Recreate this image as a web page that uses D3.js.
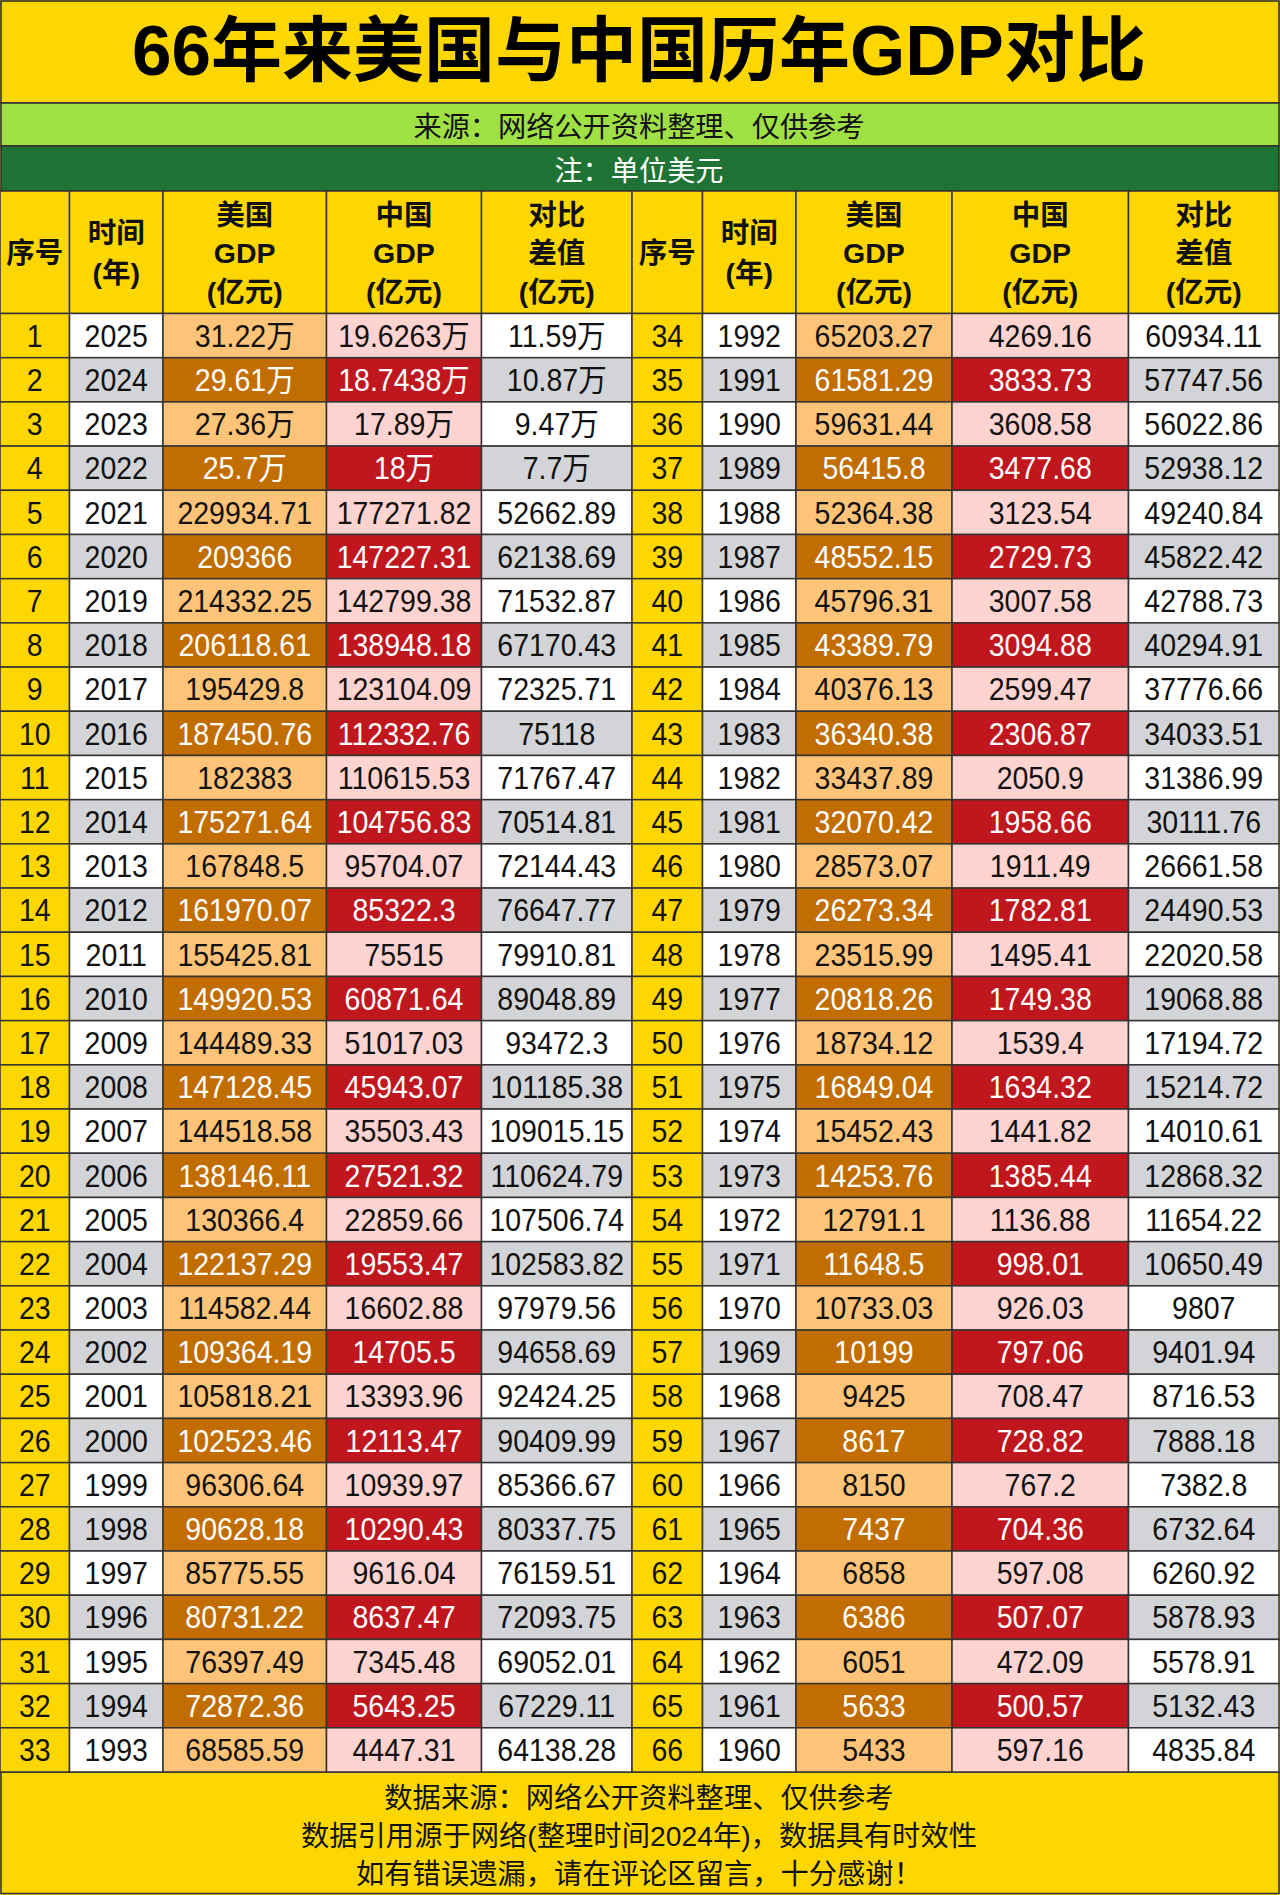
<!DOCTYPE html>
<html>
<head>
<meta charset="utf-8">
<script src="https://cdn.jsdelivr.net/npm/d3@7"></script>
<style>
  html, body { margin: 0; padding: 0; background: #fff; }
  svg { display: block; }
  text { font-family: "Liberation Sans", "Noto Sans CJK SC", sans-serif; text-anchor: middle; }
</style>
</head>
<body>
<script>
const w = 1280;
const h = 1895;

const titleText = "66年来美国与中国历年GDP对比";
const sourceText = "来源：网络公开资料整理、仅供参考";
const noteText = "注：单位美元";
const footerLines = [
    "数据来源：网络公开资料整理、仅供参考",
    "数据引用源于网络(整理时间2024年)，数据具有时效性",
    "如有错误遗漏，请在评论区留言，十分感谢！"
];

const headers = [
    ["序号"],
    ["时间", "(年)"],
    ["美国", "GDP", "(亿元)"],
    ["中国", "GDP", "(亿元)"],
    ["对比", "差值", "(亿元)"]
];

const seq = [1,2,3,4,5,6,7,8,9,10,11,12,13,14,15,16,17,18,19,20,21,22,23,24,25,26,27,28,29,30,31,32,33,
    34,35,36,37,38,39,40,41,42,43,44,45,46,47,48,49,50,51,52,53,54,55,56,57,58,59,60,61,62,63,64,65,66];

const years = [2025,2024,2023,2022,2021,2020,2019,2018,2017,2016,2015,2014,2013,2012,2011,2010,2009,2008,2007,2006,
    2005,2004,2003,2002,2001,2000,1999,1998,1997,1996,1995,1994,1993,1992,1991,1990,1989,1988,1987,1986,1985,1984,
    1983,1982,1981,1980,1979,1978,1977,1976,1975,1974,1973,1972,1971,1970,1969,1968,1967,1966,1965,1964,1963,1962,1961,1960];

const usGdp = ["31.22万","29.61万","27.36万","25.7万","229934.71","209366","214332.25","206118.61","195429.8","187450.76",
    "182383","175271.64","167848.5","161970.07","155425.81","149920.53","144489.33","147128.45","144518.58","138146.11",
    "130366.4","122137.29","114582.44","109364.19","105818.21","102523.46","96306.64","90628.18","85775.55","80731.22",
    "76397.49","72872.36","68585.59","65203.27","61581.29","59631.44","56415.8","52364.38","48552.15","45796.31",
    "43389.79","40376.13","36340.38","33437.89","32070.42","28573.07","26273.34","23515.99","20818.26","18734.12",
    "16849.04","15452.43","14253.76","12791.1","11648.5","10733.03","10199","9425","8617","8150",
    "7437","6858","6386","6051","5633","5433"];

const cnGdp = ["19.6263万","18.7438万","17.89万","18万","177271.82","147227.31","142799.38","138948.18","123104.09","112332.76",
    "110615.53","104756.83","95704.07","85322.3","75515","60871.64","51017.03","45943.07","35503.43","27521.32",
    "22859.66","19553.47","16602.88","14705.5","13393.96","12113.47","10939.97","10290.43","9616.04","8637.47",
    "7345.48","5643.25","4447.31","4269.16","3833.73","3608.58","3477.68","3123.54","2729.73","3007.58",
    "3094.88","2599.47","2306.87","2050.9","1958.66","1911.49","1782.81","1495.41","1749.38","1539.4",
    "1634.32","1441.82","1385.44","1136.88","998.01","926.03","797.06","708.47","728.82","767.2",
    "704.36","597.08","507.07","472.09","500.57","597.16"];

const diffs = ["11.59万","10.87万","9.47万","7.7万","52662.89","62138.69","71532.87","67170.43","72325.71","75118",
    "71767.47","70514.81","72144.43","76647.77","79910.81","89048.89","93472.3","101185.38","109015.15","110624.79",
    "107506.74","102583.82","97979.56","94658.69","92424.25","90409.99","85366.67","80337.75","76159.51","72093.75",
    "69052.01","67229.11","64138.28","60934.11","57747.56","56022.86","52938.12","49240.84","45822.42","42788.73",
    "40294.91","37776.66","34033.51","31386.99","30111.76","26661.58","24490.53","22020.58","19068.88","17194.72",
    "15214.72","14010.61","12868.32","11654.22","10650.49","9807","9401.94","8716.53","7888.18","7382.8",
    "6732.64","6260.92","5878.93","5578.91","5132.43","4835.84"];

const rowsPerSide = 33;
const columns = [seq, years, usGdp, cnGdp, diffs];

// column edges of the two side by side tables
const edges = [0, 69.5, 163, 326.5, 481.5, 632, 702.5, 796, 952, 1128.5, 1279];

const yellow = "#ffd700", line = "#333";
const oddFill = [yellow, "#fff", "#ffc478", "#ffd3cf", "#fff"];
const evenFill = [yellow, "#d2d4d7", "#c26d00", "#c0171e", "#d2d4d7"];
const evenInk = ["#111", "#111", "#fff", "#fff", "#111"];

// x: edge number -> px, y: row number -> px
let x = d3.scaleLinear().domain(d3.range(edges.length)).range(edges);
let y = d3.scaleBand().domain(d3.range(rowsPerSide)).range([313.5, 1772]);

let cells = [];
seq.forEach((s, i) => {
    let side = i < rowsPerSide ? 0 : 1;
    let row = i % rowsPerSide;
    columns.forEach((col, c) => {
        cells.push({
            text: col[i],
            edge: side * 5 + c,
            row: row,
            fill: row % 2 == 0 ? oddFill[c] : evenFill[c],
            ink: row % 2 == 0 ? "#111" : evenInk[c]
        });
    });
});

let svg = d3.select("body")
            .append("svg")
                .attr("width", w)
                .attr("height", h);

svg.append("rect").attr("width", w).attr("height", h).attr("fill", yellow);

// top bands and footer
let bands = [
    {y0: 1, y1: 103, fill: yellow},
    {y0: 103, y1: 146, fill: "#9fe045"},
    {y0: 146, y1: 191, fill: "#1f7435"},
    {y0: 1772, y1: 1893.5, fill: yellow}
];
svg.selectAll(".band")
    .data(bands)
    .enter()
    .append("rect")
    .attr("class", "band")
    .attr("x", 1)
    .attr("y", d => d.y0)
    .attr("width", w - 2)
    .attr("height", d => d.y1 - d.y0)
    .attr("fill", d => d.fill)
    .attr("stroke", line)
    .attr("stroke-width", 1.6);

function label(text, cx, cy, size, weight, ink) {
    return svg.append("text")
        .attr("x", cx)
        .attr("y", cy)
        .attr("dy", "0.36em")
        .attr("font-size", size)
        .attr("font-weight", weight)
        .attr("fill", ink)
        .text(text);
}

label(titleText, 639, 49, 71, 700, "#000");
label(sourceText, w / 2 - 1, 127, 28.2, 400, "#111");
label(noteText, w / 2 - 1, 170.5, 28.2, 400, "#fff");
footerLines.forEach((t, i) => label(t, w / 2 - 1, 1798 + i * 38, 28.3, 400, "#111"));

// header cells
let headerCells = [];
[0, 1].forEach(side => headers.forEach((lines, c) => headerCells.push({edge: side * 5 + c, lines: lines})));

svg.selectAll(".head")
    .data(headerCells)
    .enter()
    .append("rect")
    .attr("class", "head")
    .attr("x", d => x(d.edge))
    .attr("y", 191)
    .attr("width", d => x(d.edge + 1) - x(d.edge))
    .attr("height", 122.5)
    .attr("fill", yellow)
    .attr("stroke", line)
    .attr("stroke-width", 1.5);

headerCells.forEach(d => {
    let cx = (x(d.edge) + x(d.edge + 1)) / 2;
    let gap = d.lines.length == 3 ? 38.5 : 40;
    d.lines.forEach((t, i) => {
        label(t, cx, 253 + (i - (d.lines.length - 1) / 2) * gap, 28.5, 700, "#111");
    });
});

// body cells
svg.selectAll(".cell")
    .data(cells)
    .enter()
    .append("rect")
    .attr("class", "cell")
    .attr("x", d => x(d.edge))
    .attr("y", d => y(d.row))
    .attr("width", d => x(d.edge + 1) - x(d.edge))
    .attr("height", y.bandwidth())
    .attr("fill", d => d.fill)
    .attr("stroke", line)
    .attr("stroke-width", 1.5);

// digits in the picture are a bit taller and narrower than Liberation Sans
svg.selectAll(".val")
    .data(cells)
    .enter()
    .append("text")
    .attr("class", "val")
    .attr("transform", d => "translate(" + (x(d.edge) + x(d.edge + 1)) / 2 + "," + (y(d.row) + y.bandwidth() / 2) + ") scale(0.92,1)")
    .attr("dy", "0.36em")
    .attr("font-size", 31)
    .attr("fill", d => d.ink)
    .text(d => d.text);
</script>
</body>
</html>
